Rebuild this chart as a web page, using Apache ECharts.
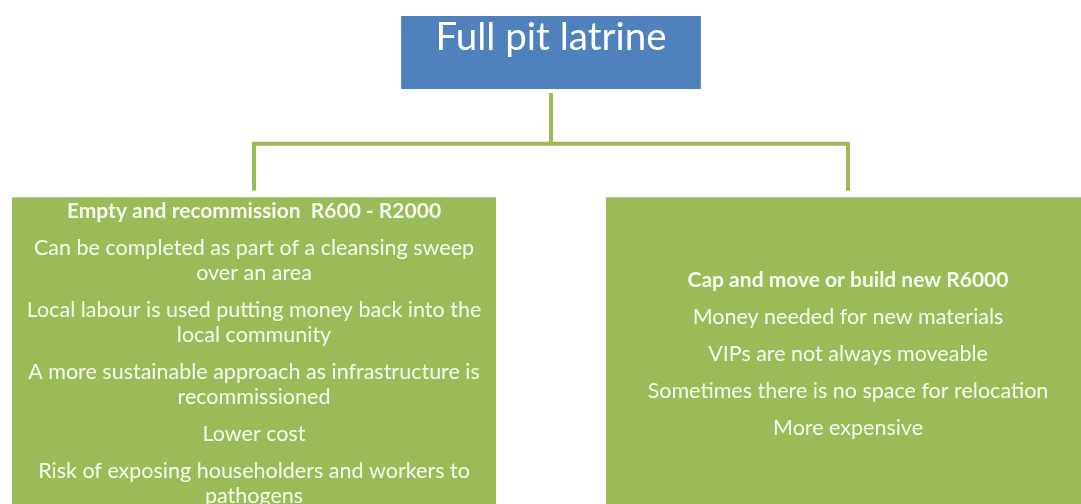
<!DOCTYPE html>
<html>
<head>
    <meta charset="utf-8">
    <title>Full pit latrine</title>
    <script src="https://cdn.jsdelivr.net/npm/echarts@6/dist/echarts.min.js"></script>
    <style>
        html, body { margin: 0; padding: 0; background: #fff; }
        #chart { width: 1081px; height: 504px; }
    </style>
</head>
<body>
<div id="chart"></div>
<script>
    // 数据
    var rootTitle = 'Full pit latrine';
    var optionTitles = ['Empty and recommission  R600 - R2000', 'Cap and move or build new R6000'];
    // each point is a list of the wrapped lines as shown in the picture
    var emptyPoints = [
        ['Can be completed as part of a cleansing sweep', 'over an area'],
        ['Local labour is used putting money back into the', 'local community'],
        ['A more sustainable approach as infrastructure is', 'recommissioned'],
        ['Lower cost'],
        ['Risk of exposing householders and workers to', 'pathogens']
    ];
    var movePoints = [
        ['Money needed for new materials'],
        ['VIPs are not always moveable'],
        ['Sometimes there is no space for relocation'],
        ['More expensive']
    ];

    var BLUE = '#4f81bd';
    var GREEN = '#9bbb59';
    var FONT = 'Lato';

    function block(title, points) {
        var lines = ['{h|' + title + '}'];
        points.forEach(function (p) {
            lines.push('{g| }');
            p.forEach(function (l) { lines.push('{t|' + l + '}'); });
        });
        return lines.join('\n');
    }

    var leafLabel = {
        show: true,
        position: 'inside',
        align: 'center',
        verticalAlign: 'middle',
        rich: {
            h: { fontFamily: FONT, fontSize: 21, fontWeight: 'bold', color: '#f7faf0', lineHeight: 25 },
            t: { fontFamily: FONT, fontSize: 21.5, color: '#f7faf0', lineHeight: 25 },
            g: { fontSize: 1, lineHeight: 12 }
        }
    };

    var leafStyle = { color: GREEN, borderColor: '#fff', borderWidth: 8 };

    var treeData = {
        name: rootTitle,
        symbolSize: [316, 77],
        itemStyle: { color: BLUE, borderColor: '#fff', borderWidth: 8 },
        label: {
            show: true,
            position: 'inside',
            offset: [0, -15],
            fontFamily: FONT,
            fontSize: 38.5,
            color: '#fff'
        },
        children: [
            {
                name: optionTitles[0],
                symbolSize: [494, 320],
                itemStyle: leafStyle,
                label: Object.assign({ formatter: block(optionTitles[0], emptyPoints) }, leafLabel)
            },
            {
                name: optionTitles[1],
                symbolSize: [494, 320],
                itemStyle: leafStyle,
                label: Object.assign({ formatter: block(optionTitles[1], movePoints) }, leafLabel)
            }
        ]
    };

    var chart = echarts.init(document.getElementById('chart'));
    chart.setOption({
        backgroundColor: '#fff',
        animation: false,
        series: [{
            type: 'tree',
            data: [treeData],
            layout: 'orthogonal',
            orient: 'TB',
            left: -43,
            width: 1188,
            top: 52.5,
            height: 301.5,
            symbol: 'rect',
            edgeShape: 'polyline',
            edgeForkPosition: '30.3%',
            expandAndCollapse: false,
            roam: false,
            lineStyle: { color: GREEN, width: 4 },
            emphasis: { disabled: true }
        }]
    });
</script>
</body>
</html>
